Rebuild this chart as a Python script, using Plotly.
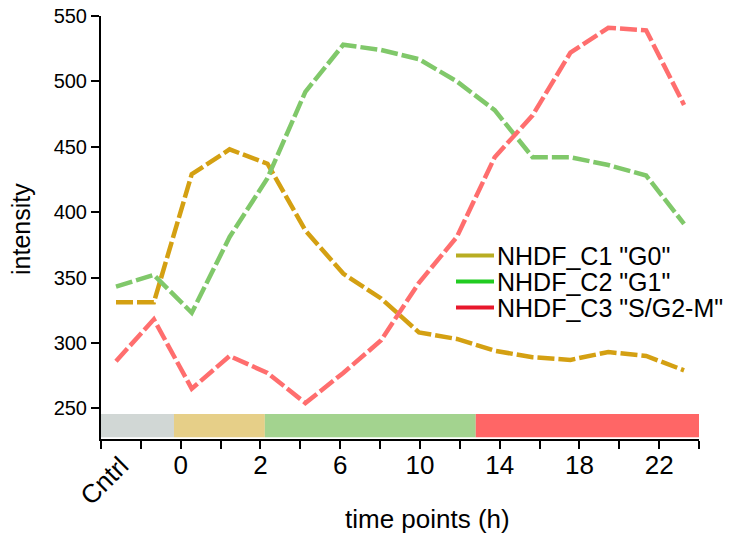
import plotly.graph_objects as go

# ---------------- data ----------------
tick_labels = ["Cntrl", "", "0", "", "2", "", "6", "", "10", "", "14", "", "18", "", "22", ""]
point_index = list(range(16))

c1_g0 = [331, 331, 429, 448, 437, 386, 353, 334, 308, 303, 294, 289, 287, 293, 290, 279]
c2_g1 = [343, 352, 323, 381, 426, 492, 528, 524, 517, 500, 478, 442, 442, 436, 428, 391]
c3_sg2m = [286, 318, 265, 290, 277, 254, 277, 302, 346, 381, 442, 474, 522, 541, 539, 482]

series_names = ['NHDF_C1 "G0"', 'NHDF_C2 "G1"', 'NHDF_C3 "S/G2-M"']
line_colors = ["#D4A012", "#80C86A", "#FF6E6E"]
legend_colors = ["#B8AD22", "#22CC22", "#E8182C"]

phase_bounds = [0, 1.83, 4.11, 9.40, 15]
phase_colors = ["#D1D7D5", "#E6CF88", "#A3D38F", "#FF6666"]

y_ticks = [250, 300, 350, 400, 450, 500, 550]

# ---------------- layout geometry (screen pixels) ----------------
W, H = 733, 541
OFF = 8  # page body offset
L, R, T, B = 101, 699, 16, 439


def px(x):
    return (x - L) / (R - L)


def py(y):
    return (B - y) / (B - T)


FONT = "Arial, Liberation Sans, Helvetica, sans-serif"

fig = go.Figure()

for vals, name, col in zip([c1_g0, c2_g1, c3_sg2m], series_names, line_colors):
    fig.add_trace(go.Scatter(
        x=point_index, y=vals, mode="lines", name=name, xaxis="x2",
        line=dict(color=col, width=4.5, dash="17px,4px"),
        showlegend=False, hoverinfo="skip",
    ))

shapes = []
for i, col in enumerate(phase_colors):
    shapes.append(dict(type="rect", xref="x", yref="y",
                       x0=phase_bounds[i], x1=phase_bounds[i + 1],
                       y0=227.8, y1=245.6, fillcolor=col, line=dict(width=0),
                       layer="below"))

annotations = []
leg_y = [255.5, 281.5, 307.5]
for name, col, yy in zip(series_names, legend_colors, leg_y):
    shapes.append(dict(type="line", xref="paper", yref="paper",
                       x0=px(456), x1=px(494), y0=py(yy), y1=py(yy),
                       line=dict(color=col, width=4)))
    annotations.append(dict(xref="paper", yref="paper", x=px(495), y=py(yy),
                            text=name, showarrow=False, xanchor="left",
                            yanchor="middle",
                            font=dict(family=FONT, size=25, color="#000")))

annotations.append(dict(xref="paper", yref="paper", x=px(104), y=py(481),
                        text=tick_labels[0], showarrow=False, textangle=-45,
                        xanchor="center", yanchor="middle",
                        font=dict(family=FONT, size=26, color="#000")))
annotations.append(dict(xref="paper", yref="paper", x=px(427), y=py(519),
                        text="time points (h)", showarrow=False,
                        xanchor="center", yanchor="middle",
                        font=dict(family=FONT, size=26, color="#000")))
annotations.append(dict(xref="paper", yref="paper", x=px(21), y=py(229),
                        text="intensity", showarrow=False, textangle=-90,
                        xanchor="center", yanchor="middle", borderpad=0,
                        font=dict(family=FONT, size=25, color="#000")))

fig.update_layout(
    width=W, height=H,
    margin=dict(l=L - OFF, r=W - R + OFF, t=T - OFF, b=H - B + OFF, pad=0,
                autoexpand=False),
    paper_bgcolor="white", plot_bgcolor="white",
    showlegend=False,
    xaxis=dict(range=[0, 15], tickmode="array", tickvals=list(range(16)),
               ticktext=[""] + tick_labels[1:], ticks="outside", ticklen=8,
               tickwidth=2, tickcolor="black", showline=True, linewidth=2,
               linecolor="black", showgrid=False, zeroline=False,
               automargin=False, ticklabelstandoff=-6,
               ticklabeloverflow="allow",
               tickfont=dict(family=FONT, size=26, color="black")),
    xaxis2=dict(range=[(L - 116) / 37.87, (R - 116) / 37.87], overlaying="x",
                visible=False),
    yaxis=dict(range=[226.5, 550], tickmode="array", tickvals=y_ticks,
               ticks="outside", ticklen=8, tickwidth=2, tickcolor="black",
               showline=True, linewidth=2, linecolor="black", showgrid=False,
               zeroline=False, automargin=False, ticklabeloverflow="allow",
               tickfont=dict(family=FONT, size=20, color="black")),
    shapes=shapes, annotations=annotations,
)

fig.write_html("out.html")
